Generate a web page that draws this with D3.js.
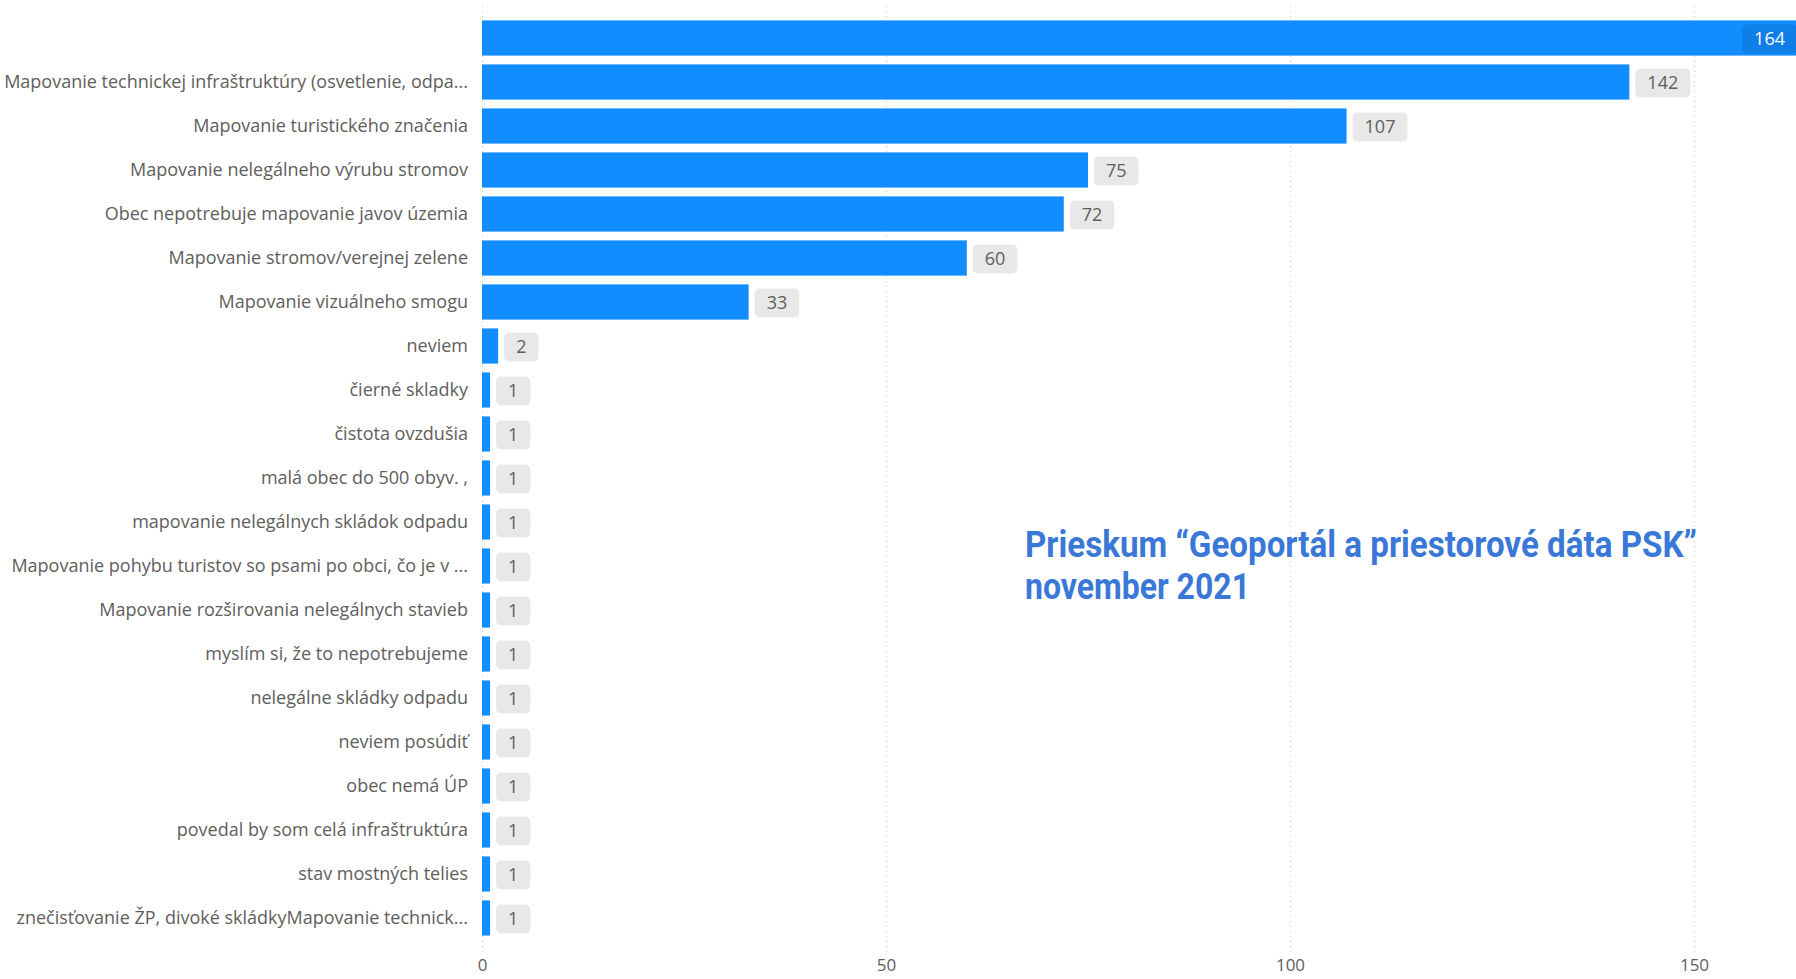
<!DOCTYPE html>
<html>
<head>
<meta charset="utf-8">
<script src="https://cdn.jsdelivr.net/npm/d3@7"></script>
<style>
  body { margin: 0; background: #fff; }
  svg { display: block; }
  .cat text { font-family: "Segoe UI", "Open Sans", sans-serif; fill: #605e5c; }
  .title { font-family: "Roboto", "DejaVu Sans", sans-serif; font-weight: bold; fill: #3a78d8; }
</style>
</head>
<body>
<div id="chart"></div>
<script>
const width = 1796;
const height = 979;

const categories = [
    '',
    'Mapovanie technickej infraštruktúry (osvetlenie, odpa...',
    'Mapovanie turistického značenia',
    'Mapovanie nelegálneho výrubu stromov',
    'Obec nepotrebuje mapovanie javov územia',
    'Mapovanie stromov/verejnej zelene',
    'Mapovanie vizuálneho smogu',
    'neviem',
    'čierné skladky',
    'čistota ovzdušia',
    'malá obec do 500 obyv. ,',
    'mapovanie nelegálnych skládok odpadu',
    'Mapovanie pohybu turistov so psami po obci, čo je v ...',
    'Mapovanie rozširovania nelegálnych stavieb',
    'myslím si, že to nepotrebujeme',
    'nelegálne skládky odpadu',
    'neviem posúdiť',
    'obec nemá ÚP',
    'povedal by som celá infraštruktúra',
    'stav mostných telies',
    'znečisťovanie ŽP, divoké skládkyMapovanie technick...'
];
const counts = [164, 142, 107, 75, 72, 60, 33, 2, 1, 1, 1, 1, 1, 1, 1, 1, 1, 1, 1, 1, 1];
const xTicks = [0, 50, 100, 150];
const titleLines = ['Prieskum “Geoportál a priestorové dáta PSK”', 'november 2021'];

const rows = categories.map((c, i) => ({ label: c, value: counts[i], id: i }));

const svg = d3.select('#chart')
    .append('svg')
    .attr('width', width)
    .attr('height', height);

const x = d3.scaleLinear()
    .domain([0, 150])
    .range([482, 1694]);

const y = d3.scaleBand()
    .domain(rows.map(d => d.id))
    .range([16, 940])
    .paddingInner(0.2)
    .paddingOuter(0.1);

// GRID
const grid = svg.append('g');
grid.selectAll('line')
    .data(xTicks)
    .enter()
    .append('line')
    .attr('x1', d => x(d) + 0.5)
    .attr('x2', d => x(d) + 0.5)
    .attr('y1', 6)
    .attr('y2', 954)
    .attr('stroke', '#c8c6c4')
    .attr('stroke-width', 1)
    .attr('stroke-dasharray', '1 4');

// X AXIS (labels only)
const xAxis = svg.append('g')
    .attr('transform', 'translate(0 954)')
    .call(d3.axisBottom(x).tickValues(xTicks).tickSize(0));
xAxis.select('.domain').remove();
xAxis.selectAll('text')
    .attr('y', 17)
    .attr('dy', null)
    .attr('font-size', 17)
    .attr('fill', '#605e5c')
    .style('font-family', '"Segoe UI", "Open Sans", sans-serif');

// CATEGORY LABELS
const cats = svg.append('g').attr('class', 'cat');
cats.selectAll('text')
    .data(rows)
    .enter()
    .append('text')
    .attr('x', 468)
    .attr('y', d => y(d.id) + y.bandwidth() / 2)
    .attr('dy', '0.36em')
    .attr('text-anchor', 'end')
    .attr('font-size', 18)
    .text(d => d.label);

// BARS
svg.append('g')
    .selectAll('rect')
    .data(rows)
    .enter()
    .append('rect')
    .attr('x', x(0))
    .attr('y', d => y(d.id))
    .attr('width', d => x(d.value) - x(0))
    .attr('height', y.bandwidth())
    .attr('fill', '#118dff');

// DATA LABELS
const labels = svg.append('g')
    .selectAll('g')
    .data(rows)
    .enter()
    .append('g');

labels.each(function (d) {
    const g = d3.select(this);
    const cy = y(d.id) + y.bandwidth() / 2;
    const txt = g.append('text')
        .attr('font-size', 18)
        .style('font-family', '"Segoe UI", "Open Sans", sans-serif')
        .attr('text-anchor', 'middle')
        .attr('dy', '0.36em')
        .attr('y', cy + 1)
        .text(d.value);
    const tw = txt.node().getComputedTextLength();
    const bw = tw + 24;
    const bh = 29;
    const barEnd = x(d.value);
    let bx = barEnd + 6;
    let inside = false;
    if (bx + bw > width) {
        bx = width + 1 - bw;
        inside = true;
    }
    g.insert('rect', 'text')
        .attr('x', bx)
        .attr('y', cy - bh / 2 + 1)
        .attr('width', bw)
        .attr('height', bh)
        .attr('rx', 5)
        .attr('fill', inside ? '#0f7ee6' : '#e8e8e8');
    txt.attr('x', bx + bw / 2)
        .attr('fill', inside ? '#ffffff' : '#605e5c');
});

// TITLE (condensed look via textLength, no narrow font installed)
const titleWidths = [672, 225];
const title = svg.append('g').attr('class', 'title');
title.selectAll('text')
    .data(titleLines)
    .enter()
    .append('text')
    .attr('x', 1025)
    .attr('y', (d, i) => 557 + i * 42)
    .attr('font-size', 37)
    .attr('textLength', (d, i) => titleWidths[i])
    .attr('lengthAdjust', 'spacingAndGlyphs')
    .text(d => d);
</script>
</body>
</html>
